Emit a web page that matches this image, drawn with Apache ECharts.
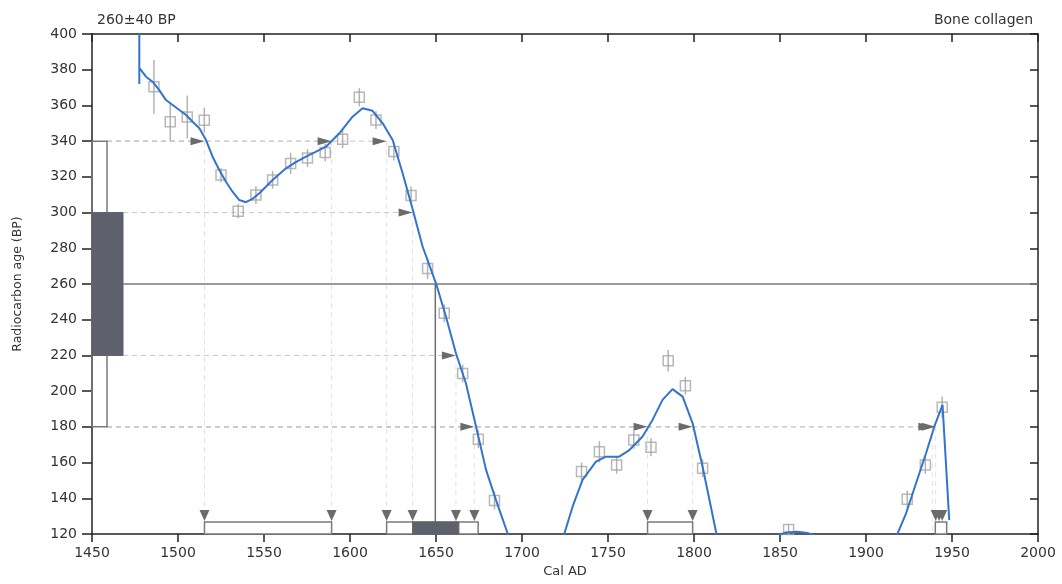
<!DOCTYPE html>
<html>
<head>
<meta charset="utf-8">
<script src="https://cdn.jsdelivr.net/npm/echarts@6/dist/echarts.min.js"></script>
<style>
html, body { margin: 0; padding: 0; background: #fff; }
#chart { width: 1062px; height: 584px; }
</style>
</head>
<body>
<div id="chart"></div>
<script>
// measured radiocarbon age
var measuredAge = 260, measuredErr = 40;
var sigma1 = [220, 300], sigma2 = [180, 340];

// calibration curve, null = gap
var curveYears = [1477.5, 1477.5, null,
  1477.5, 1478.5, 1481.4, 1485.2, 1489.1, 1493, 1496.9, 1500.8, 1504.7, 1508.5, 1512.4, 1516.3,
  1520.1, 1524, 1527.9, 1531.7, 1535.6, 1539.5, 1543, 1547.3, 1555, 1562.8, 1568, 1574.4, 1580,
  1586, 1593.8, 1601.5, 1607.3, 1613.1, 1619, 1624.8, 1630.6, 1636.4, 1642.2, 1650, 1655.8,
  1661.6, 1667.4, 1673.3, 1679.1, 1684.9, 1691.6, 1694, null,
  1722, 1724.7, 1729.4, 1735.2, 1743, 1748.8, 1756.5, 1762.4, 1770, 1775.9, 1781.7, 1787.5,
  1793.4, 1799.2, 1805, 1812.8, 1814, null,
  1848, 1853, 1860, 1866, 1870, null,
  1916, 1918.4, 1923.3, 1929.1, 1934.9, 1939.7, 1944.5, 1948.4];
var curveBP = [372, 402, null,
  381, 380.9, 376.1, 373.3, 368.6, 363, 360.2, 357.4, 354.6, 350.9, 347.2, 340.6,
  331.3, 323.8, 317.3, 311.7, 307, 305.8, 307.5, 310.8, 318.2, 324.8, 328, 331.3, 334,
  336.9, 344.4, 353.7, 358.4, 357, 350, 340.6, 322, 302, 281, 260.4, 241.7,
  221.2, 204.4, 180.1, 155.9, 139, 120.4, 112, null,
  112, 120.4, 135.3, 150.3, 160.5, 163.3, 163.3, 167, 174.5, 183.9, 195.1, 201.1,
  196.9, 182, 157.7, 121.3, 116, null,
  119, 120.8, 121.2, 120.6, 119, null,
  112, 120.4, 131.6, 148.4, 165.2, 180.1, 192.3, 127.8];

// calibration data points
var sampleYears = [1486, 1495.5, 1505.4, 1515.3, 1525, 1535, 1545.3, 1555, 1565.5, 1575.3, 1585.6,
  1595.7, 1605.4, 1615.1, 1625.5, 1635.5, 1645.1, 1654.8, 1665.5, 1674.6, 1684,
  1734.6, 1745, 1755, 1765, 1775, 1785, 1795, 1805, 1855, 1924, 1934.5, 1944.3];
var sampleBP = [370.4, 350.8, 353.5, 351.7, 321, 300.8, 309.8, 318.3, 327.5, 330.5, 333.6,
  341.1, 364.6, 351.8, 334.2, 309.6, 268.7, 243.6, 209.9, 173, 138.7,
  155, 166, 158.7, 172.7, 168.6, 217, 203, 156.8, 122.5, 139.4, 158.7, 191];
var sampleErr = [15, 11, 12, 7, 4, 4, 5, 5, 6, 5, 5,
  5, 5, 5, 5, 5, 6, 5, 5, 5, 5,
  5, 6, 5, 5, 5, 6, 5, 5, 3, 5, 5, 6];

// intersections of the sigma levels with the curve
var crossYears = [1515.4, 1589.3, 1621.3, 1636.4, 1661.6, 1672.3, 1773, 1799.2, 1938.6, 1940.5];
var crossBP = [340, 340, 340, 300, 220, 180, 180, 180, 180, 180];
var markYears = [1515.4, 1589.3, 1621.3, 1636.4, 1661.6, 1672.3, 1773, 1799.2, 1940.5, 1942.5, 1944.3];

// calibrated ranges
var range2 = [[1515.4, 1589.3], [1621.3, 1674.5], [1773, 1799.2], [1940.3, 1946.9]];
var range1 = [[1636.4, 1663.3]];
var interceptYear = 1649.6;

var font = 'DejaVu Sans';
var chart = echarts.init(document.getElementById('chart'));

var curveData = curveYears.map(function (x, i) {
  return x == null ? '-' : [x, curveBP[i]];
});
var sampleData = sampleYears.map(function (x, i) { return [x, sampleBP[i]]; });
var errData = sampleYears.map(function (x, i) { return [x, sampleBP[i], sampleErr[i]]; });
var crossData = crossYears.map(function (x, i) { return [x, crossBP[i]]; });

var w2 = 15, w1 = 31, boxH = 12;

function leftX(api) { return api.coord([1450, measuredAge])[0]; }
function bottomY(api) { return api.coord([1450, 120])[1]; }
function plain(v) { return String(v); }

var option = {
  animation: false,
  title: [
    { text: '260±40 BP', left: 92, top: 8, textStyle: { fontFamily: font, fontSize: 14, fontWeight: 'normal', color: '#333' } },
    { text: 'Bone collagen', right: 24, top: 8, textStyle: { fontFamily: font, fontSize: 14, fontWeight: 'normal', color: '#333' } }
  ],
  grid: { left: 92, right: 24, top: 34, bottom: 50 },
  xAxis: [{
    type: 'value', min: 1450, max: 2000, interval: 50,
    name: 'Cal AD', nameLocation: 'middle', nameGap: 31,
    nameTextStyle: { fontFamily: font, fontSize: 13, color: '#333' },
    axisLine: { lineStyle: { color: '#222', width: 1.5 } },
    axisTick: { inside: false, length: 8, lineStyle: { color: '#222', width: 1.5 } },
    axisLabel: { fontFamily: font, fontSize: 14, color: '#333', margin: 12, formatter: plain },
    splitLine: { show: false }
  }, {
    type: 'value', min: 1450, max: 2000, interval: 50, position: 'top',
    axisLine: { lineStyle: { color: '#222', width: 1.5 } },
    axisTick: { inside: true, length: 8, lineStyle: { color: '#222', width: 1.5 } },
    axisLabel: { show: false },
    splitLine: { show: false }
  }],
  yAxis: [{
    type: 'value', min: 120, max: 400, interval: 20,
    name: 'Radiocarbon age (BP)', nameLocation: 'middle', nameGap: 68,
    nameTextStyle: { fontFamily: font, fontSize: 12.5, color: '#333' },
    axisLine: { lineStyle: { color: '#222', width: 1.5 } },
    axisTick: { inside: false, length: 10, lineStyle: { color: '#222', width: 1.5 } },
    axisLabel: { fontFamily: font, fontSize: 14, color: '#333', margin: 15, formatter: plain },
    splitLine: { show: false }
  }, {
    type: 'value', min: 120, max: 400, interval: 20, position: 'right',
    axisLine: { lineStyle: { color: '#222', width: 1.5 } },
    axisTick: { inside: true, length: 8, lineStyle: { color: '#222', width: 1.5 } },
    axisLabel: { show: false },
    splitLine: { show: false }
  }],
  series: [
    // dashed guides from the sigma levels to the curve and down to the axis
    {
      type: 'custom', z: 1, data: crossData,
      renderItem: function (params, api) {
        var p = api.coord([api.value(0), api.value(1)]);
        var lvl = api.value(1);
        var edge = leftX(api) + ((lvl === sigma2[0] || lvl === sigma2[1]) ? w2 : w1);
        return { type: 'group', children: [
          { type: 'line', shape: { x1: edge, y1: p[1], x2: p[0], y2: p[1] },
            style: { stroke: '#c8c8c8', lineWidth: 1, lineDash: [5, 4] } },
          { type: 'line', shape: { x1: p[0], y1: p[1], x2: p[0], y2: bottomY(api) },
            style: { stroke: '#e2e2e2', lineWidth: 1, lineDash: [5, 4] } }
        ] };
      }
    },
    // measured age: sigma boxes, level line and intercept
    {
      type: 'custom', z: 2, data: [[measuredAge, measuredErr]],
      renderItem: function (params, api) {
        var x0 = leftX(api);
        var y2a = api.coord([1450, sigma2[1]])[1], y2b = api.coord([1450, sigma2[0]])[1];
        var y1a = api.coord([1450, sigma1[1]])[1], y1b = api.coord([1450, sigma1[0]])[1];
        var ym = api.coord([1450, measuredAge])[1];
        var xr = api.coord([2000, measuredAge])[0];
        var xi = api.coord([interceptYear, measuredAge])[0];
        return { type: 'group', children: [
          { type: 'rect', shape: { x: x0, y: y2a, width: w2, height: y2b - y2a }, style: { fill: 'none', stroke: '#7a7a7a', lineWidth: 1.5 } },
          { type: 'rect', shape: { x: x0, y: y1a, width: w1, height: y1b - y1a }, style: { fill: '#5e616c', stroke: '#5e616c', lineWidth: 1 } },
          { type: 'line', shape: { x1: x0 + w1, y1: ym, x2: xr, y2: ym }, style: { stroke: '#7a7a7a', lineWidth: 1.5 } },
          { type: 'line', shape: { x1: xi, y1: ym, x2: xi, y2: bottomY(api) }, style: { stroke: '#6e6e6e', lineWidth: 1.5 } }
        ] };
      }
    },
    // calibrated range brackets
    {
      type: 'custom', z: 3, data: range2,
      renderItem: function (params, api) {
        var a = api.coord([api.value(0), 120]), b = api.coord([api.value(1), 120]);
        return { type: 'rect', shape: { x: a[0], y: a[1] - boxH, width: b[0] - a[0], height: boxH },
          style: { fill: '#fff', stroke: '#7a7a7a', lineWidth: 1.5 } };
      }
    },
    {
      type: 'custom', z: 4, data: range1,
      renderItem: function (params, api) {
        var a = api.coord([api.value(0), 120]), b = api.coord([api.value(1), 120]);
        return { type: 'rect', shape: { x: a[0], y: a[1] - boxH, width: b[0] - a[0], height: boxH },
          style: { fill: '#5e616c', stroke: '#5e616c', lineWidth: 1 } };
      }
    },
    // down markers above the ranges
    {
      type: 'custom', z: 4, data: markYears.map(function (x) { return [x, 120]; }),
      renderItem: function (params, api) {
        var p = api.coord([api.value(0), 120]);
        var t = p[1] - boxH - 1;
        return { type: 'polygon', shape: { points: [[p[0], t], [p[0] - 5, t - 11], [p[0] + 5, t - 11]] },
          style: { fill: '#6b6b6b' } };
      }
    },
    // error bars
    {
      type: 'custom', z: 5, data: errData,
      renderItem: function (params, api) {
        var x = api.value(0), y = api.value(1), e = api.value(2);
        var a = api.coord([x, y + e]), b = api.coord([x, y - e]);
        return { type: 'line', shape: { x1: a[0], y1: a[1], x2: b[0], y2: b[1] },
          style: { stroke: '#b3b3b3', lineWidth: 1.5 } };
      }
    },
    {
      type: 'scatter', z: 6, data: sampleData, symbol: 'rect', symbolSize: 10,
      itemStyle: { color: 'rgba(255,255,255,0)', borderColor: '#a6a6a6', borderWidth: 1.5 }
    },
    {
      type: 'line', z: 7, data: curveData, showSymbol: false, symbol: 'none',
      connectNulls: false, clip: true,
      lineStyle: { color: '#3474cc', width: 2 }
    },
    // arrows at the intersections
    {
      type: 'custom', z: 8, data: crossData,
      renderItem: function (params, api) {
        var p = api.coord([api.value(0), api.value(1)]);
        return { type: 'polygon', shape: { points: [[p[0], p[1]], [p[0] - 14, p[1] - 4], [p[0] - 14, p[1] + 4]] },
          style: { fill: '#6b6b6b' } };
      }
    }
  ]
};
chart.setOption(option);
</script>
</body>
</html>
